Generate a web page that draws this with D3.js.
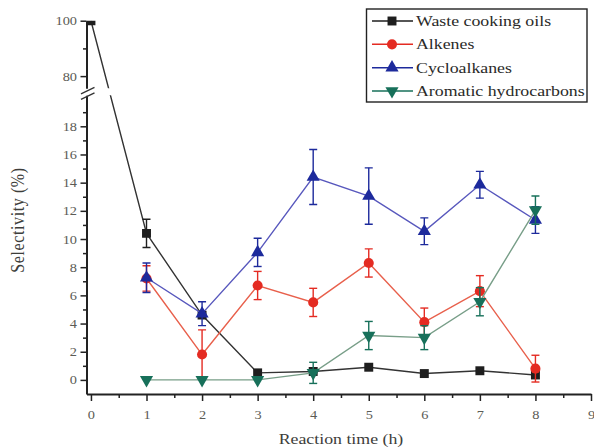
<!DOCTYPE html>
<html>
<head>
<meta charset="utf-8">
<script src="https://cdn.jsdelivr.net/npm/d3@7"></script>
<style>
  html, body { margin: 0; padding: 0; background: #fff; }
  svg { display: block; }
  text { font-family: "Liberation Serif", "Times New Roman", serif; }
</style>
</head>
<body>
<svg id="chart" width="594" height="447"></svg>
<script>
// Reaction time (h)
const times = [0, 1, 2, 3, 4, 5, 6, 7, 8];
const productTimes = [1, 2, 3, 4, 5, 6, 7, 8];

// Selectivity (%) and standard deviations
const wasteOil    = [100, 10.4, 4.6, 0.5, 0.6, 0.9, 0.45, 0.65, 0.35];
const wasteOilErr = [0, 1.0, 0, 0, 0, 0, 0, 0, 0];
const alkenes     = [7.2, 1.8, 6.7, 5.5, 8.3, 4.1, 6.3, 0.8];
const alkenesErr  = [0.9, 1.75, 1.0, 1.0, 1.0, 1.0, 1.1, 0.95];
const cycloalkanes    = [7.25, 4.7, 9.05, 14.4, 13.05, 10.55, 13.85, 11.35];
const cycloalkanesErr = [1.05, 0.85, 1.0, 1.95, 2.0, 0.95, 0.95, 0.95];
const aromatics    = [0, 0, 0, 0.5, 3.15, 3.0, 5.55, 12.05];
const aromaticsErr = [0, 0, 0, 0.75, 1.0, 0.85, 1.0, 1.0];

const seriesNames = ["Waste cooking oils", "Alkenes", "Cycloalkanes", "Aromatic hydrocarbons"];

// Axis ticks
const xTicks = [0, 1, 2, 3, 4, 5, 6, 7, 8, 9];
const xMinorTicks = [0.5, 1.5, 2.5, 3.5, 4.5, 5.5, 6.5, 7.5, 8.5];
const yLowTicks = [0, 2, 4, 6, 8, 10, 12, 14, 16, 18];
const yLowMinor = [1, 3, 5, 7, 9, 11, 13, 15, 17, 19];
const yHighTicks = [80, 100];
const yHighMinor = [90];

const svg = d3.select("#chart");
const STRETCH = 1.15;   // glyphs are drawn slightly wide

// Scales: x, and a broken y axis made of two linear segments
const x = d3.scaleLinear().domain([-0.08, 9]).range([86.5, 591]);
const yLow = d3.scaleLinear().domain([-1, 20.2]).range([394, 95.3]);
const yHigh = d3.scaleLinear().domain([75.6, 100]).range([88.3, 20.7]);
const y = v => (v > 50 ? yHigh(v) : yLow(v));

const styles = [
  { marker: "#1e1e1e", line: "#333333", shape: d3.symbolSquare,   rot: 0 },
  { marker: "#e42b22", line: "#e8604c", shape: d3.symbolCircle,   rot: 0 },
  { marker: "#1d2a9c", line: "#5858bd", shape: d3.symbolTriangle, rot: 0 },
  { marker: "#17705a", line: "#789e88", shape: d3.symbolTriangle, rot: 180 }
];
const symbolSizes = [80, 80, 75, 75];

const series = [
  { t: times, v: wasteOil, e: wasteOilErr },
  { t: productTimes, v: alkenes, e: alkenesErr },
  { t: productTimes, v: cycloalkanes, e: cycloalkanesErr },
  { t: productTimes, v: aromatics, e: aromaticsErr }
].map((s, i) => ({
  name: seriesNames[i],
  style: styles[i],
  size: symbolSizes[i],
  points: s.t.map((t, j) => ({ t, v: s.v[j], e: s.e[j] }))
}));

// Clip plot content to the two y segments (leaving the break gap empty)
const defs = svg.append("defs");
const clip = defs.append("clipPath").attr("id", "plotClip");
clip.append("rect").attr("x", x.range()[0]).attr("y", yHigh.range()[1])
  .attr("width", 520).attr("height", yHigh.range()[0] - yHigh.range()[1]);
clip.append("rect").attr("x", x.range()[0]).attr("y", yLow.range()[1])
  .attr("width", 520).attr("height", yLow.range()[0] - yLow.range()[1]);

// ---- Axes ----
function styleAxis(g) {
  g.selectAll("path.domain").attr("stroke", "#222").attr("stroke-width", 2);
  g.selectAll(".tick line").attr("stroke", "#222").attr("stroke-width", 1.5);
  g.selectAll("text").attr("fill", "#5b5b55").attr("font-size", 12.5)
    .style("font-family", '"Liberation Serif", serif');
}

// bottom axis
const xAxisG = svg.append("g").attr("transform", `translate(0,${yLow.range()[0]})`);
xAxisG.call(d3.axisBottom(x).tickValues(xTicks).tickFormat(d3.format("d"))
  .tickSize(7).tickSizeOuter(0).tickPadding(9)).call(styleAxis);
xAxisG.selectAll("text").attr("transform", `scale(${STRETCH},1)`);
svg.append("g").attr("transform", `translate(0,${yLow.range()[0]})`)
  .call(d3.axisBottom(x).tickValues(xMinorTicks).tickFormat("").tickSize(4).tickSizeOuter(0))
  .call(g => { g.select("path.domain").remove(); styleAxis(g); });

// left axis, lower segment
const yAxisX = x.range()[0];
function leftAxis(scale, major, minor) {
  const g = svg.append("g").attr("transform", `translate(${yAxisX},0)`);
  g.call(d3.axisLeft(scale).tickValues(major).tickFormat(d3.format("d"))
    .tickSize(6).tickSizeOuter(0).tickPadding(3)).call(styleAxis);
  g.selectAll("text").attr("x", -9.5 / STRETCH).attr("transform", `scale(${STRETCH},1)`);
  svg.append("g").attr("transform", `translate(${yAxisX},0)`)
    .call(d3.axisLeft(scale).tickValues(minor).tickFormat("").tickSize(3.5).tickSizeOuter(0))
    .call(gg => { gg.select("path.domain").remove(); styleAxis(gg); });
}
leftAxis(yLow, yLowTicks, yLowMinor);
leftAxis(yHigh, yHighTicks, yHighMinor);

// axis break marks
const breakG = svg.append("g").attr("stroke", "#333").attr("stroke-width", 1.3);
[[0, 0], [0, 5.5]].forEach(([dx, dy]) => {
  breakG.append("line")
    .attr("x1", yAxisX - 5.5 + dx).attr("y1", yHigh.range()[0] + 5.5 + dy)
    .attr("x2", yAxisX + 8 + dx).attr("y2", yHigh.range()[0] - 1 + dy);
});

// axis titles
svg.append("text")
  .attr("transform", `translate(${x(4.5)},444) scale(${STRETCH},1)`)
  .attr("text-anchor", "middle").attr("font-size", 15.5).attr("fill", "#3d3d3a")
  .text("Reaction time (h)");
svg.append("text")
  .attr("transform", `translate(24,220) rotate(-90) scale(1,${STRETCH})`)
  .attr("text-anchor", "middle").attr("font-size", 16).attr("fill", "#3d3d3a")
  .attr("letter-spacing", 0.6)
  .text("Selectivity (%)");

// ---- Data ----
const plot = svg.append("g").attr("clip-path", "url(#plotClip)");
const line = d3.line().x(d => x(d.t)).y(d => y(d.v));

series.forEach(s => {
  const g = plot.append("g");
  g.append("path").datum(s.points)
    .attr("fill", "none").attr("stroke", s.style.line).attr("stroke-width", 1.4)
    .attr("d", line);

  const eb = g.append("g").attr("stroke", s.style.marker).attr("stroke-width", 1.4);
  s.points.filter(p => p.e > 0).forEach(p => {
    const cx = x(p.t), yt = y(p.v + p.e), yb = y(p.v - p.e);
    eb.append("line").attr("x1", cx).attr("x2", cx).attr("y1", yt).attr("y2", yb);
    eb.append("line").attr("x1", cx - 4).attr("x2", cx + 4).attr("y1", yt).attr("y2", yt);
    eb.append("line").attr("x1", cx - 4).attr("x2", cx + 4).attr("y1", yb).attr("y2", yb);
  });

  const sym = d3.symbol().type(s.style.shape).size(s.size);
  g.selectAll("path.pt").data(s.points).join("path")
    .attr("class", "pt")
    .attr("d", sym)
    .attr("fill", s.style.marker)
    .attr("transform", d => `translate(${x(d.t)},${y(d.v)}) rotate(${s.style.rot})`);
});

// ---- Legend ----
const legend = svg.append("g");
legend.append("rect").attr("x", 366.5).attr("y", 9).attr("width", 220.5).attr("height", 93)
  .attr("fill", "#fff").attr("stroke", "#222").attr("stroke-width", 1.4);
const rowY = d3.scalePoint().domain(seriesNames).range([21, 91]);
series.forEach(s => {
  const ry = rowY(s.name);
  legend.append("line").attr("x1", 372).attr("x2", 413).attr("y1", ry).attr("y2", ry)
    .attr("stroke", s.style.marker).attr("stroke-width", 1.5);
  legend.append("path").attr("d", d3.symbol().type(s.style.shape).size(s.size)())
    .attr("fill", s.style.marker)
    .attr("transform", `translate(392,${ry}) rotate(${s.style.rot})`);
  legend.append("text")
    .attr("transform", `translate(416,${ry + 5}) scale(${STRETCH},1)`)
    .attr("font-size", 15.5).attr("fill", "#2a2a28")
    .text(s.name);
});
</script>
</body>
</html>
